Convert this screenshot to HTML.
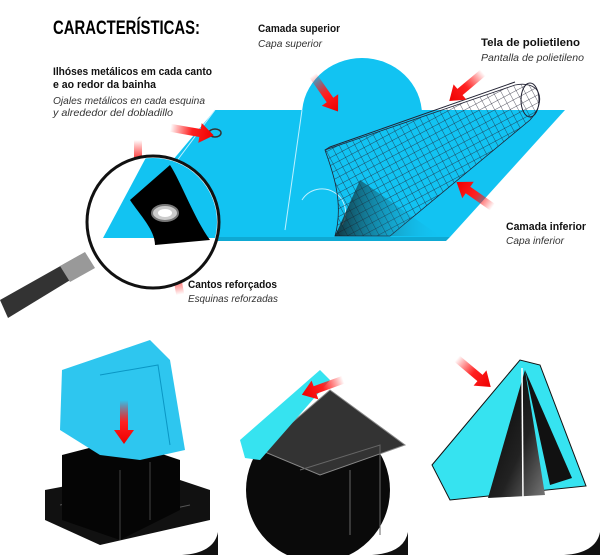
<!DOCTYPE html>
<html><head><meta charset="utf-8"><style>
html,body{margin:0;padding:0;background:#fff;}
svg{display:block;}
text{font-family:"Liberation Sans",sans-serif;}
.b{font-weight:bold;font-size:11px;fill:#111;}
.i{font-style:italic;font-size:10.5px;fill:#333;}
</style></head><body>
<svg width="600" height="555" viewBox="0 0 600 555" xmlns="http://www.w3.org/2000/svg">
<defs>
<linearGradient id="ar" x1="0" y1="0" x2="1" y2="0"><stop offset="0" stop-color="#ff0000" stop-opacity="0"/><stop offset="0.5" stop-color="#ff2020"/><stop offset="1" stop-color="#ee0000"/></linearGradient>
<linearGradient id="dk" x1="0" y1="0" x2="1" y2="0"><stop offset="0" stop-color="#111"/><stop offset="1" stop-color="#1ab8e8" stop-opacity="0"/></linearGradient>
<linearGradient id="gr" x1="0" y1="0" x2="1" y2="1"><stop offset="0" stop-color="#000"/><stop offset="0.6" stop-color="#222"/><stop offset="1" stop-color="#777"/></linearGradient>
<pattern id="mesh" width="7" height="7" patternUnits="userSpaceOnUse" patternTransform="rotate(-28)"><path d="M0 0H7M0 0V7" stroke="#223" stroke-width="0.7" fill="none"/></pattern>
<g id="arrow"><path d="M-30 -4 L0 -4 L0 -10 L14 0 L0 10 L0 4 L-30 4Z" fill="url(#ar)"/></g>
</defs>

<text x="53" y="34" font-size="19" font-weight="bold" fill="#000" textLength="147" lengthAdjust="spacingAndGlyphs">CARACTERÍSTICAS:</text>
<text class="b" x="53" y="75" textLength="159" lengthAdjust="spacingAndGlyphs">Ilhóses metálicos em cada canto</text>
<text class="b" x="53" y="88" textLength="103" lengthAdjust="spacingAndGlyphs">e ao redor da bainha</text>
<text class="i" x="53" y="104" textLength="152" lengthAdjust="spacingAndGlyphs">Ojales metálicos en cada esquina</text>
<text class="i" x="53" y="116" textLength="120" lengthAdjust="spacingAndGlyphs">y alrededor del dobladillo</text>
<text class="b" x="258" y="32" textLength="82" lengthAdjust="spacingAndGlyphs">Camada superior</text>
<text class="i" x="258" y="47" textLength="64" lengthAdjust="spacingAndGlyphs">Capa superior</text>
<text class="b" x="481" y="46" textLength="99" lengthAdjust="spacingAndGlyphs">Tela de polietileno</text>
<text class="i" x="481" y="61" textLength="103" lengthAdjust="spacingAndGlyphs">Pantalla de polietileno</text>
<text class="b" x="506" y="230" textLength="80" lengthAdjust="spacingAndGlyphs">Camada inferior</text>
<text class="i" x="506" y="244" textLength="58" lengthAdjust="spacingAndGlyphs">Capa inferior</text>
<text class="b" x="188" y="288" textLength="89" lengthAdjust="spacingAndGlyphs">Cantos reforçados</text>
<text class="i" x="188" y="302" textLength="90" lengthAdjust="spacingAndGlyphs">Esquinas reforzadas</text>

<ellipse cx="362" cy="115" rx="60" ry="57" fill="#12c3f2"/>
<path d="M215 110 L565 110 L450 237 L108 237 Z" fill="#12c3f2"/>
<path d="M108 237 L450 237 L446 241 L112 241Z" fill="#0ea9d3"/>
<path d="M215 110 L170 170 M302 110 L285 230 M302 200 a22 22 0 1 1 40 25" stroke="#bff0ff" stroke-width="1" fill="none"/>
<ellipse cx="215" cy="133" rx="6" ry="4" fill="none" stroke="#333" stroke-width="1.5"/>
<path d="M335 236 C345 200 330 165 325 150 L515 85 C540 80 548 100 530 120 L390 236 Z" fill="url(#mesh)" stroke="#223" stroke-width="0.8"/>
<path d="M335 236 L440 236 L360 180Z" fill="url(#dk)" opacity="0.8"/>
<path d="M325 150 L330 147 L515 82" stroke="#223" stroke-width="1" fill="none"/>
<ellipse cx="530" cy="100" rx="9" ry="17" fill="none" stroke="#223" stroke-width="1"/>

<use href="#arrow" transform="translate(200,133) rotate(10)"/>
<use href="#arrow" transform="translate(138,170) rotate(90)"/>
<use href="#arrow" transform="translate(175,265) rotate(-100)"/>
<use href="#arrow" transform="translate(330,100) rotate(55)"/>
<use href="#arrow" transform="translate(460,92) rotate(140)"/>
<use href="#arrow" transform="translate(468,190) rotate(-145)"/>

<path d="M0 300 L80 255 L90 268 L8 318 Z" fill="#333"/>
<path d="M60 266 L85 252 L95 268 L70 282Z" fill="#999"/>
<circle cx="153" cy="222" r="66" fill="#fff" stroke="#111" stroke-width="3"/>
<clipPath id="mc"><circle cx="153" cy="222" r="64"/></clipPath>
<g clip-path="url(#mc)">
<path d="M150 150 L300 150 L260 238 L103 238 Z" fill="#12c3f2"/>
<path d="M130 200 L170 165 C180 180 195 220 210 240 L155 245 C155 230 140 215 130 200Z" fill="#000"/>
<ellipse cx="165" cy="213" rx="13" ry="8" fill="#ccc" stroke="#777" stroke-width="2"/>
<ellipse cx="165" cy="213" rx="7" ry="4" fill="#fff"/>
</g>

<path d="M45 490 L150 470 L210 490 L210 520 L100 545 L45 520Z" fill="#111"/>
<path d="M120 520 L190 505 M60 505 L150 488" stroke="#555" fill="none"/>
<path d="M62 455 L120 440 L180 460 L180 510 L120 540 L62 520Z" fill="#050505"/>
<path d="M120 470 L120 540 M150 462 L150 520" stroke="#444"/>
<path d="M62 370 L150 340 L170 360 L185 450 L140 460 L100 455 L60 430 Z" fill="#2ec6ef"/>
<path d="M100 375 L158 365 L170 445" stroke="#0a96c4" fill="none"/>
<use href="#arrow" transform="translate(124,430) rotate(90)"/>

<circle cx="318" cy="490" r="72" fill="#0a0a0a"/>
<path d="M330 390 L405 445 L320 475 L260 450Z" fill="#333" stroke="#888"/>
<path d="M300 470 L380 445 L380 535 M350 470 L350 535" stroke="#666" fill="none"/>
<path d="M240 440 L320 370 L330 380 L260 460 L245 458 Z" fill="#36e3f0"/>
<use href="#arrow" transform="translate(315,390) rotate(160)"/>

<path d="M432 465 L520 360 L540 365 L586 486 L450 500 Z" fill="#36e3f0" stroke="#111"/>
<path d="M488 498 L525 370 L545 495 Z" fill="url(#gr)"/>
<path d="M525 370 L572 478 L550 485Z" fill="#111"/>
<path d="M522 368 L523 500" stroke="#fff" stroke-width="1.5"/>
<use href="#arrow" transform="translate(480,378) rotate(40)"/>

<path d="M218 532 L218 555 L182 555 Q214 553 218 532Z" fill="#111"/>
<path d="M408 532 L408 555 L372 555 Q404 553 408 532Z" fill="#111"/>
<path d="M600 532 L600 555 L564 555 Q596 553 600 532Z" fill="#111"/>
</svg>
</body></html>
